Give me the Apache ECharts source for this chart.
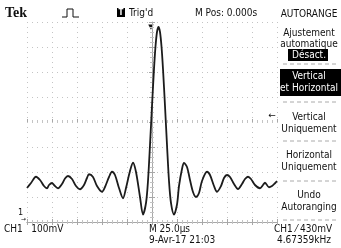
<!DOCTYPE html>
<html>
<head>
<meta charset="utf-8">
<script src="https://cdn.jsdelivr.net/npm/echarts@6/dist/echarts.min.js"></script>
<style>
  html, body { margin: 0; padding: 0; background: #fff; }
  #scope { width: 341px; height: 248px; }
</style>
</head>
<body>
<div id="scope"></div>
<script>
// CH1 trace: time in µs (M Pos 0 = centre), level in mV
const timeUs = [
  -125, -121, -116, -112, -108, -105, -103, -100, -98, -94,
  -90, -87, -84, -80, -76, -72, -68, -65, -63, -59,
  -55, -50, -47, -43, -40, -37, -33, -29, -26, -22,
  -19, -16, -12, -9, -6, -4, -2, 0, 2, 3.5,
  5, 6.5, 8, 9.5, 11, 13, 15, 17, 19, 22,
  25, 27, 30, 32, 35, 38, 41, 44, 47, 50,
  55, 58, 62, 65, 69, 72, 75, 78, 82, 86,
  90, 93, 96, 99, 103, 108, 111, 113, 117, 120,
  123, 125,
];
const ch1mV = [
  136, 156, 181, 168, 144, 135, 148, 156, 148, 135,
  152, 174, 184, 172, 144, 131, 148, 176, 191, 180,
  144, 121, 140, 180, 201, 188, 136, 95, 136, 204,
  237, 200, 100, 30, 76, 164, 308, 464, 612, 702,
  760, 780, 760, 702, 612, 464, 308, 164, 76, 30,
  70, 144, 212, 236, 220, 168, 120, 100, 116, 164,
  201, 188, 144, 121, 144, 176, 188, 180, 152, 132,
  152, 172, 181, 172, 148, 135, 148, 157, 139, 144,
  155, 164,
];

// screen settings
const timeDivUs = 25;
const voltDivMv = 100;
const timeMin = -125;
const timeMax = 125;
const voltMin = 0;
const voltMax = 800;

// side menu (AUTORANGE)
const menuTitle = 'AUTORANGE';
const menuItems = [
  ['Ajustement', 'automatique'],
  ['Vertical', 'et Horizontal'],
  ['Vertical', 'Uniquement'],
  ['Horizontal', 'Uniquement'],
  ['Undo', 'Autoranging'],
];

const FONT = "'Liberation Sans Narrow', 'DejaVu Sans Condensed', 'Liberation Sans', sans-serif";
const GRID_COLOR = '#c4c4c4';
const EDGE_COLOR = '#a8a8a8';
const INK = '#111';

function txt(x, y, text, opts = {}) {
  return {
    type: 'text',
    silent: true,
    style: {
      x, y, text,
      font: opts.font || `10px ${FONT}`,
      fill: opts.fill || INK,
      textAlign: opts.align || 'left',
      textVerticalAlign: 'middle',
    },
  };
}

function dashLine(x1, x2, y) {
  return {
    type: 'line',
    silent: true,
    shape: { x1, y1: y, x2, y2: y },
    style: { stroke: '#aaa', lineWidth: 1, lineDash: [4, 3] },
  };
}

const chart = echarts.init(document.getElementById('scope'), null, { renderer: 'canvas' });

const tickAxisX = (position, offset, split) => ({
  type: 'value',
  position,
  offset,
  min: timeMin,
  max: timeMax,
  interval: timeDivUs,
  axisLabel: { show: false },
  axisLine: { show: offset === 0, lineStyle: { color: EDGE_COLOR, width: 1 } },
  axisTick: { show: true, inside: true, length: 3, lineStyle: { color: EDGE_COLOR } },
  minorTick: { show: true, splitNumber: 5, length: 2, lineStyle: { color: GRID_COLOR } },
  splitLine: {
    show: split,
    lineStyle: { color: GRID_COLOR, type: [1, 4], width: 1 },
  },
});

const tickAxisY = (position, offset, split, solid) => ({
  type: 'value',
  position,
  offset,
  min: voltMin,
  max: voltMax,
  interval: voltDivMv,
  axisLabel: { show: false },
  axisLine: {
    show: offset === 0,
    lineStyle: { color: EDGE_COLOR, width: 1, type: solid ? 'solid' : [1, 2] },
  },
  axisTick: { show: true, inside: true, length: 3, lineStyle: { color: EDGE_COLOR } },
  minorTick: { show: true, splitNumber: 5, length: 2, lineStyle: { color: GRID_COLOR } },
  splitLine: {
    show: split,
    lineStyle: { color: GRID_COLOR, type: [1, 4], width: 1 },
  },
});

// right-hand menu graphics
const menu = [];
const mx = 309;
menu.push(txt(mx, 14, menuTitle, { align: 'center' }));
menu.push(txt(mx, 33, menuItems[0][0], { align: 'center' }));
menu.push(txt(mx, 44, menuItems[0][1], { align: 'center' }));
menu.push({
  type: 'rect', silent: true,
  shape: { x: 288, y: 49, width: 40, height: 12 },
  style: { fill: '#000' },
});
menu.push(txt(mx, 55, 'Désact.', { align: 'center', fill: '#fff' }));
menu.push(dashLine(283, 336, 64));
menu.push({
  type: 'rect', silent: true,
  shape: { x: 280, y: 69, width: 61, height: 27 },
  style: { fill: '#000' },
});
menu.push(txt(mx, 76, menuItems[1][0], { align: 'center', fill: '#fff' }));
menu.push(txt(mx, 88, menuItems[1][1], { align: 'center', fill: '#fff' }));
menu.push(dashLine(283, 336, 102));
menu.push(txt(mx, 117, menuItems[2][0], { align: 'center' }));
menu.push(txt(mx, 129, menuItems[2][1], { align: 'center' }));
menu.push(dashLine(283, 336, 141));
menu.push(txt(mx, 155, menuItems[3][0], { align: 'center' }));
menu.push(txt(mx, 167, menuItems[3][1], { align: 'center' }));
menu.push(dashLine(283, 336, 181));
menu.push(txt(mx, 195, menuItems[4][0], { align: 'center' }));
menu.push(txt(mx, 207, menuItems[4][1], { align: 'center' }));
menu.push(dashLine(283, 336, 220));

// header + footer readouts
const labels = [
  txt(5, 13, 'Tek', { font: `bold 14px 'Liberation Serif', 'DejaVu Serif', serif` }),
  {
    type: 'polyline', silent: true,
    shape: { points: [[62, 17], [67, 17], [67, 9], [73, 9], [73, 17], [79, 17]] },
    style: { stroke: INK, lineWidth: 1, fill: null },
  },
  { type: 'rect', silent: true, shape: { x: 117, y: 8, width: 8, height: 9 }, style: { fill: '#000' } },
  txt(121, 12.5, 'T', { align: 'center', fill: '#fff', font: `bold 8px ${FONT}` }),
  txt(129, 13, "Trig'd"),
  txt(195, 13, 'M Pos: 0.000s'),
  txt(151, 27, '▼', { align: 'center', font: `7px 'DejaVu Sans', sans-serif` }),
  txt(272, 116, '←', { align: 'center', font: `9px 'DejaVu Sans', sans-serif` }),
  txt(18, 213, '1', { font: `9px ${FONT}` }),
  txt(21, 219, '→', { font: `6px 'DejaVu Sans', sans-serif` }),
  txt(4, 229, 'CH1   100mV'),
  txt(149, 229, 'M 25.0µs'),
  txt(149, 240, '9-Avr-17 21:03'),
  txt(274, 229, 'CH1 ⁄ 430mV'),
  txt(277, 240, '4.67359kHz'),
];

const option = {
  backgroundColor: '#fff',
  animation: false,
  grid: { left: 27, top: 22, width: 250, height: 200, containLabel: false },
  xAxis: [
    tickAxisX('bottom', 0, true),
    tickAxisX('top', 0, false),
    tickAxisX('bottom', -100, false), // centre horizontal ruler
  ],
  yAxis: [
    tickAxisY('left', 0, true, false),
    tickAxisY('right', 0, false, true),
    tickAxisY('left', -125, false, false), // centre vertical ruler
  ],
  series: [
    {
      type: 'line',
      xAxisIndex: 0,
      yAxisIndex: 0,
      data: timeUs.map((t, i) => [t, ch1mV[i]]),
      smooth: 0.3,
      showSymbol: false,
      lineStyle: { color: '#1c1c1c', width: 1.8 },
      itemStyle: { color: '#1c1c1c' },
    },
  ],
  graphic: [...menu, ...labels],
};

chart.setOption(option);
</script>
</body>
</html>
